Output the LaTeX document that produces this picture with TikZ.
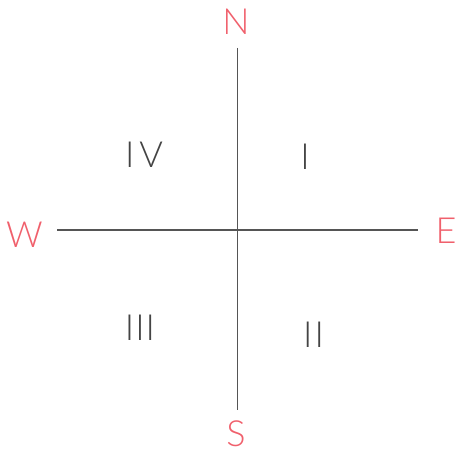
\documentclass[tikz,border=0pt]{standalone}
\usepackage{fontspec}
\newfontfamily\thinfont{Lato Light}
\definecolor{compred}{HTML}{F0606C}
\definecolor{axisgray}{HTML}{555555}
\definecolor{numgray}{HTML}{444444}
\begin{document}
\begin{tikzpicture}[x=1pt,y=-1pt,
  axis/.style={draw=axisgray,line width=1.8pt},
  dirlabel/.style={text=compred,font=\thinfont\fontsize{36}{36}\selectfont,anchor=base,inner sep=0pt},
  quadlabel/.style={text=numgray,font=\thinfont\fontsize{36}{36}\selectfont,anchor=base,inner sep=0pt}]
\useasboundingbox (0,0) rectangle (457,452);
\coordinate (top) at (237.5,48);
\coordinate (bot) at (237.5,410);
\coordinate (lft) at (57,230);
\coordinate (rgt) at (418,230);
\draw[axis] (top) -- (bot);
\draw[axis] (lft) -- (rgt);
\node[dirlabel] (n) at (236,35) {N};
\node[dirlabel] (s) at (236,446) {S};
\node[dirlabel] (w) at (24.5,247) {W};
\node[dirlabel] (e) at (446,243) {E};
\node[quadlabel] (q4) at (144,167) {I\hspace{5pt}V};
\node[quadlabel] (q1) at (305,169) {I};
\node[quadlabel] (q3) at (140,340) {I\hspace{1pt}I\hspace{1pt}I};
\node[quadlabel] (q2) at (313.5,347) {I\hspace{2pt}I};
\end{tikzpicture}
\end{document}
